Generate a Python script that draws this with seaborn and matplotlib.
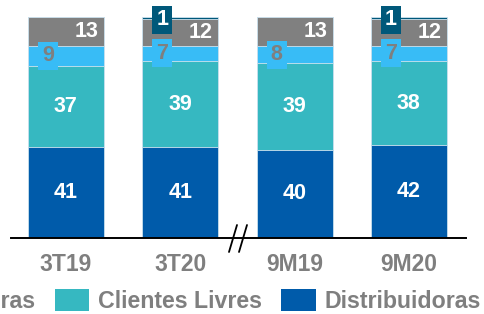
import matplotlib
matplotlib.use("Agg")
import matplotlib.pyplot as plt
from matplotlib.lines import Line2D
from matplotlib.patches import Patch, Rectangle
import numpy as np
import pandas as pd
import seaborn as sns

# data
periods = ["3T19", "3T20", "9M19", "9M20"]
distribuidoras = [41, 41, 40, 42]
clientes_livres = [37, 39, 39, 38]
comercializadoras = [9, 7, 8, 7]
consumidores = [13, 12, 13, 12]
outros = [0, 1, 0, 1]

series = [
    ("Distribuidoras", distribuidoras, "#005BAA", "white", None),
    ("Clientes Livres", clientes_livres, "#36B8C1", "white", None),
    ("Comercializadoras", comercializadoras, "#38BCF6", "#7F7F7F", "box_left"),
    ("Consumidores Especiais", consumidores, "#808080", "white", "right"),
    ("Exportação", outros, "#00587A", "white", "box_left"),
]

sns.set_style("white")
plt.rcParams["font.family"] = ["Liberation Sans", "DejaVu Sans"]
plt.rcParams["font.weight"] = "bold"

fig = plt.figure(figsize=(4.85, 3.14), dpi=100)
ax = fig.add_axes([11 / 485, 76 / 314, 455 / 485, 221 / 314])

# stacked bars: draw cumulative totals from the top down
cum = np.cumsum([s[1] for s in series], axis=0)
for k in range(len(series) - 1, -1, -1):
    name, vals, color, _, _ = series[k]
    df = pd.DataFrame({"period": periods, "value": cum[k]})
    sns.barplot(data=df, x="period", y="value", color=color, width=0.665,
                saturation=1, edgecolor="#cfe3ef", linewidth=0.6, ax=ax)

# labels
bottoms = np.vstack([np.zeros(4), cum[:-1]])
for k, (name, vals, color, tcolor, style) in enumerate(series):
    for i, v in enumerate(vals):
        if v == 0:
            continue
        yc = bottoms[k][i] + v / 2
        if style is None:
            ax.text(i, yc, str(v), ha="center", va="center", color=tcolor,
                    fontsize=15.5, fontweight="bold")
        elif style == "right":
            ax.text(i + 0.18, yc, str(v), ha="center", va="center", color=tcolor,
                    fontsize=15.5, fontweight="bold")
        else:
            if v == 1:
                yc -= 0.8
            xc = i - 0.155
            ax.add_patch(Rectangle((xc - 0.0875, yc - 6.35), 0.175, 12.7,
                                   fc=color, ec="none", zorder=5, clip_on=False))
            ax.text(xc, yc, str(v), ha="center", va="center", color=tcolor,
                    fontsize=15.5, fontweight="bold", zorder=6, clip_on=False)

ax.set_xlim(-0.48, 3.5)
ax.set_ylim(0, 100)
ax.set_xlabel("")
ax.set_ylabel("")
ax.set_yticks([])
ax.tick_params(axis="x", length=0, pad=11, labelsize=16.5, labelcolor="#7F7F7F")
for lbl in ax.get_xticklabels():
    lbl.set_fontweight("bold")
for s in ["top", "left", "right"]:
    ax.spines[s].set_visible(False)
ax.spines["bottom"].set_color("black")
ax.spines["bottom"].set_linewidth(1.4)

# axis break marks "//"
for dx in (0, 10):
    fig.add_artist(Line2D([(229 + dx) / 485, (237 + dx) / 485],
                          [1 - 252 / 314, 1 - 225 / 314],
                          color="black", lw=1.3, transform=fig.transFigure))

# legend (left part runs off the figure like in the reference)
handles = [Patch(fc=s[2], ec="none", label=s[0]) for s in series[::-1]]
fig.legend(handles=handles, loc="center right", bbox_to_anchor=(481 / 485, 1 - 301 / 314),
           ncol=5, frameon=False, fontsize=16.7, labelcolor="#7F7F7F",
           handlelength=1.48, handleheight=1.09, handletextpad=0.39,
           columnspacing=0.83, borderpad=0, borderaxespad=0)

fig.savefig("out.png", dpi=100)
